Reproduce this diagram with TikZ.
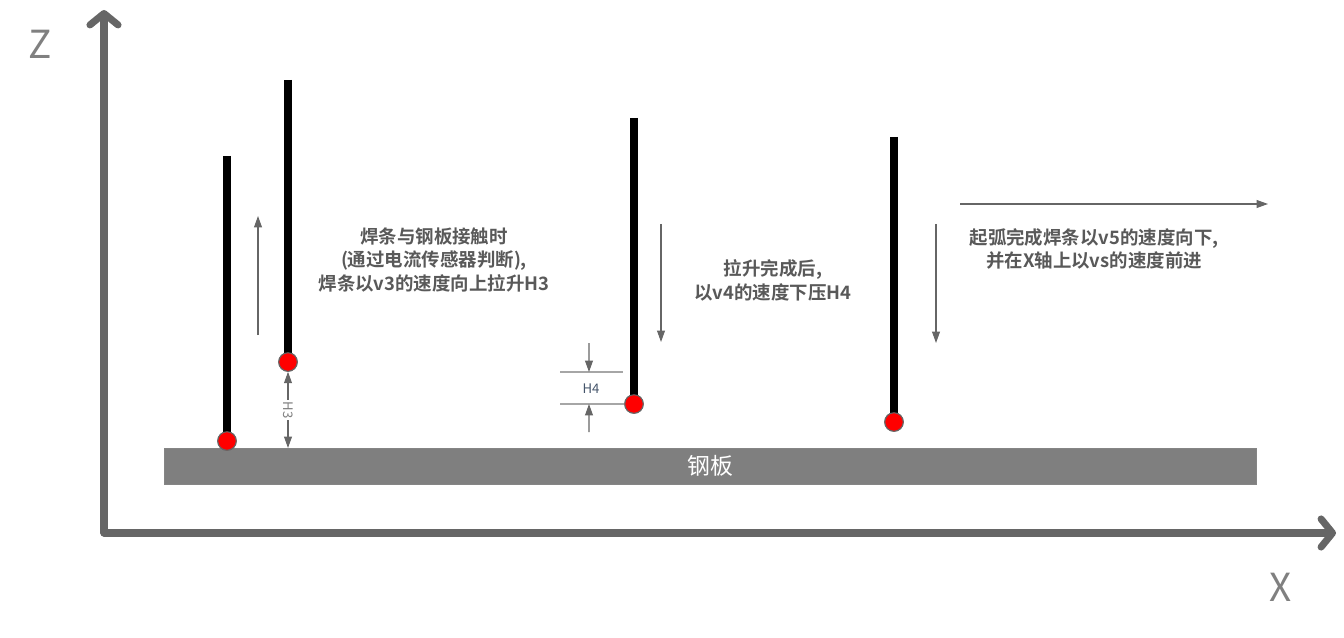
\documentclass[tikz,border=0pt]{standalone}
\usepackage{fontspec}
\setmainfont{Noto Sans CJK SC}[BoldFont={Noto Sans CJK SC Bold}]
\usepackage{tikz}
\usetikzlibrary{arrows.meta, positioning, calc}

\definecolor{axisgray}{HTML}{666666}
\definecolor{labelgray}{HTML}{808080}
\definecolor{textgray}{HTML}{595959}
\definecolor{plategray}{HTML}{7F7F7F}
\definecolor{dimblue}{HTML}{44546A}

\tikzset{
  axis/.style={draw=axisgray, line width=4pt, line cap=round,
    -{Straight Barb[length=6.5pt, width=16pt, round]}},
  rod/.style={draw=black, line width=5pt},
  tip/.style={circle, fill=red, draw=axisgray, line width=0.6pt, minimum size=0.37cm, inner sep=0pt},
  move/.style={draw=axisgray, line width=0.6pt, -{Triangle[length=6.5pt, width=4.5pt]}},
  dimline/.style={draw=labelgray!70, line width=0.6pt},
  note/.style={font=\bfseries\fontsize{10.5}{13.6}\selectfont, text=textgray, align=center, inner sep=0pt}
}

\begin{document}
\begin{tikzpicture}[x=0.02cm, y=-0.02cm]
  \useasboundingbox (0,0) rectangle (1344,638);
  % --- axes ---
  \coordinate (o) at (104,533);
  \coordinate (ztop) at (104,10);
  \coordinate (xend) at (1336,533);
  \draw[axis] (o) -- (ztop);
  \draw[axis] (o) -- (xend);
  \node[text=labelgray, font=\fontsize{22}{22}\selectfont] (zlab) at (40,44) {Z};
  \node[text=labelgray, font=\fontsize{22}{22}\selectfont] (xlab) at (1281,587) {X};
  % --- plate ---
  \node[draw=axisgray!80, fill=plategray, minimum width=1092*0.02cm, minimum height=36*0.02cm,
        inner sep=0pt, text=white, font=\fontsize{13}{13}\selectfont] (plate) at (710,466) {钢板};
  % --- rod 1: contact ---
  \coordinate (r1top) at (227,156);
  \node[tip] (t1) at (227,441) {};
  \draw[rod] (r1top) -- (t1.center);
  \node[tip] at (t1) {};
  \coordinate (up1) at (258,335);
  \coordinate (up2) at (258,216);
  \draw[move] (up1) -- (up2);
  % --- rod 2: lifted by H3 ---
  \coordinate (r2top) at (288,80);
  \node[tip] (t2) at (288,362) {};
  \draw[rod] (r2top) -- (t2.center);
  \node[tip] at (t2) {};
  \coordinate (h3base) at (288,448);
  \draw[move, {Triangle[length=6.5pt, width=4.5pt]}-{Triangle[length=6.5pt, width=4.5pt]}]
    (t2.south) -- node[fill=white, inner sep=1pt, rotate=-90, text=labelgray,
    font=\fontsize{7.5}{7.5}\selectfont] (h3) {H3} (h3base);
  \node[note] (n1) at (434,260) {焊条与钢板接触时\\(通过电流传感器判断),\\焊条以v3的速度向上拉升H3};
  % --- rod 3: pressed down by H4 ---
  \coordinate (r3top) at (634,118);
  \node[tip] (t3) at (634,404) {};
  \coordinate (d1a) at (560,372);
  \coordinate (d1b) at (623,372);
  \coordinate (d2a) at (560,404);
  \coordinate (d2b) at (623,404);
  \draw[dimline] (d1a) -- (d1b);
  \draw[dimline] (d2a) -- (t3.center);
  \draw[rod] (r3top) -- (t3.center);
  \node[tip] at (t3) {};
  \coordinate (a1) at (589,343);
  \coordinate (a2) at (589,432);
  \draw[move] (a1) -- ($(d1a)!0.46!(d1b)$);
  \draw[move] (a2) -- ($(d2a)!0.46!(d2b)$);
  \node[text=dimblue, font=\fontsize{7.5}{7.5}\selectfont] (h4) at (591,389) {H4};
  \coordinate (dn1) at (661,224);
  \coordinate (dn2) at (661,342);
  \draw[move] (dn1) -- (dn2);
  \node[note] (n2) at (773,280) {拉升完成后,\\以v4的速度下压H4};
  % --- rod 4: arc started ---
  \coordinate (r4top) at (894,137);
  \node[tip] (t4) at (894,422) {};
  \draw[rod] (r4top) -- (t4.center);
  \node[tip] at (t4) {};
  \coordinate (dn3) at (936,224);
  \coordinate (dn4) at (936,343);
  \draw[move] (dn3) -- (dn4);
  \coordinate (fw1) at (960,204);
  \coordinate (fw2) at (1268,204);
  \draw[move] (fw1) -- (fw2);
  \node[note] (n3) at (1094,249) {起弧完成焊条以v5的速度向下,\\并在X轴上以vs的速度前进};
\end{tikzpicture}
\end{document}
